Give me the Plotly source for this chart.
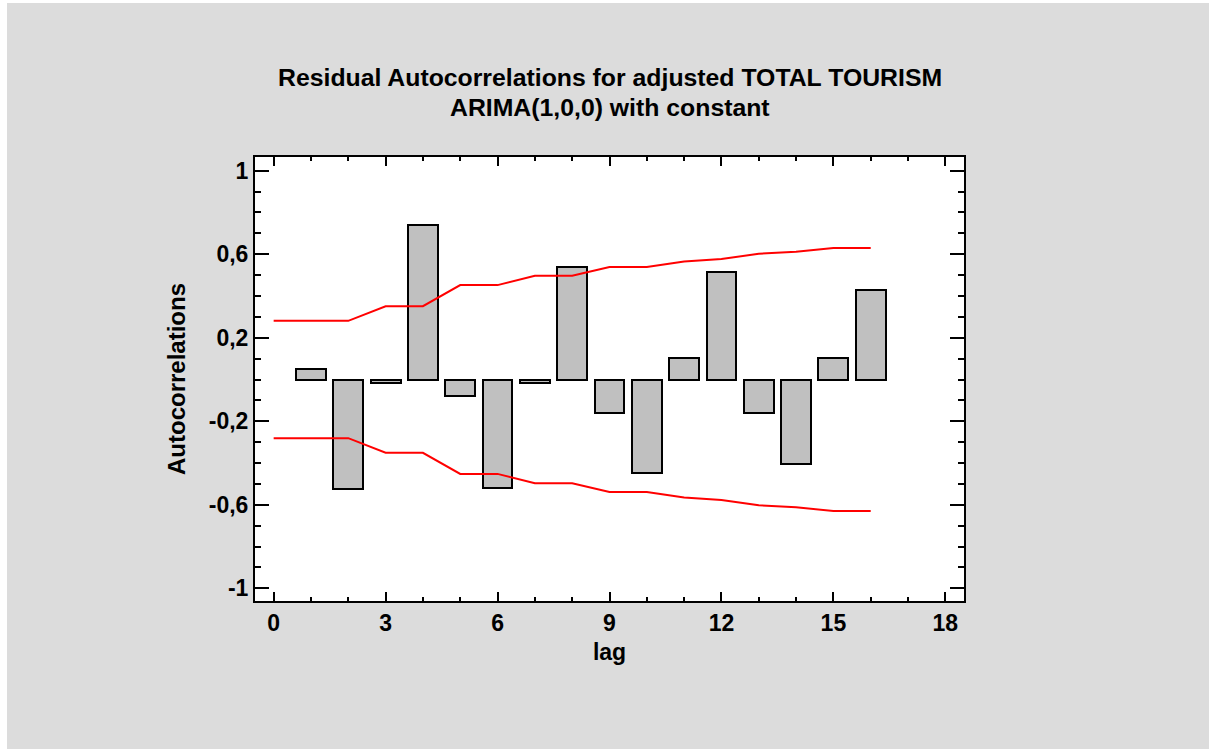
import numpy as np
import plotly.graph_objects as go

# Residual autocorrelations by lag
lags = list(range(1, 17))
autocorr = [0.05, -0.526, -0.016, 0.74, -0.08, -0.518, -0.016, 0.54,
            -0.16, -0.448, 0.104, 0.513, -0.16, -0.403, 0.104, 0.427]

# 95% probability limits, lag 0 through 16
limit_lags = list(range(0, 17))
upper_limit = [0.281, 0.281, 0.281, 0.351, 0.351, 0.452, 0.452, 0.497, 0.497,
               0.539, 0.539, 0.565, 0.577, 0.602, 0.612, 0.630, 0.630]
lower_limit = [-v for v in upper_limit]

x_tick_vals = [0, 3, 6, 9, 12, 15, 18]
x_tick_text = ["0", "3", "6", "9", "12", "15", "18"]
y_tick_vals = [-1, -0.6, -0.2, 0.2, 0.6, 1]
y_tick_text = ["-1", "-0,6", "-0,2", "0,2", "0,6", "1"]

title_line1 = "Residual Autocorrelations for adjusted TOTAL TOURISM"
title_line2 = "ARIMA(1,0,0) with constant"

FONT = "Liberation Sans, Arial, sans-serif"
BG = "#DCDCDC"

W, H = 1209, 749
L, R, T, B = 255, 245, 157, 148
PW, PH = W - L - R, H - T - B


def px_to_paper_x(px):
    return (px - L) / PW


def px_to_paper_y(py):
    return (H - B - py) / PH


def bold(size):
    return dict(family=FONT, size=size, color="black", weight="bold")


fig = go.Figure()

fig.add_trace(go.Bar(
    x=lags, y=autocorr, width=0.8,
    marker=dict(color="#C0C0C0", line=dict(color="black", width=2)),
    showlegend=False,
))

fig.add_trace(go.Scatter(
    x=limit_lags, y=upper_limit, mode="lines",
    line=dict(color="#FF0000", width=2), showlegend=False,
))
fig.add_trace(go.Scatter(
    x=limit_lags, y=lower_limit, mode="lines",
    line=dict(color="#FF0000", width=2), showlegend=False,
))

axis_common = dict(
    showgrid=False, zeroline=False,
    showline=True, linecolor="black", linewidth=2, mirror="allticks",
    ticks="inside", tickcolor="black", tickwidth=2,
    tickfont=bold(23),
)

fig.update_xaxes(
    range=[-0.5, 18.5], tickvals=x_tick_vals, ticktext=x_tick_text,
    ticklen=9,
    minor=dict(dtick=1, tick0=0, ticks="inside", ticklen=4, tickwidth=2, tickcolor="black"),
    title=dict(text="lag", font=bold(23), standoff=9),
    **axis_common,
)
fig.update_yaxes(
    range=[-1.0608, 1.0656], tickvals=y_tick_vals, ticktext=y_tick_text,
    ticklen=14,
    minor=dict(tickvals=[round(v, 1) for v in np.arange(-1.0, 1.01, 0.1)],
               ticks="inside", ticklen=6, tickwidth=2, tickcolor="black"),
    title=dict(text="Autocorrelations", font=bold(24), standoff=16),
    **axis_common,
)

fig.update_layout(
    width=W, height=H,
    margin=dict(l=L, r=R, t=T, b=B, pad=0),
    paper_bgcolor=BG, plot_bgcolor="white",
    bargap=0,
    annotations=[
        dict(text=title_line1, xref="paper", yref="paper",
             x=px_to_paper_x(610), y=px_to_paper_y(78), xanchor="center", yanchor="middle",
             showarrow=False, font=bold(24.8)),
        dict(text=title_line2, xref="paper", yref="paper",
             x=px_to_paper_x(610), y=px_to_paper_y(107), xanchor="center", yanchor="middle",
             showarrow=False, font=bold(24.8)),
    ],
    shapes=[
        dict(type="rect", xref="paper", yref="paper", layer="above",
             x0=px_to_paper_x(0), x1=px_to_paper_x(7), y0=px_to_paper_y(H), y1=px_to_paper_y(0),
             fillcolor="white", line=dict(width=0)),
        dict(type="rect", xref="paper", yref="paper", layer="above",
             x0=px_to_paper_x(0), x1=px_to_paper_x(W), y0=px_to_paper_y(3), y1=px_to_paper_y(0),
             fillcolor="white", line=dict(width=0)),
    ],
)

fig.write_html("out.html")
